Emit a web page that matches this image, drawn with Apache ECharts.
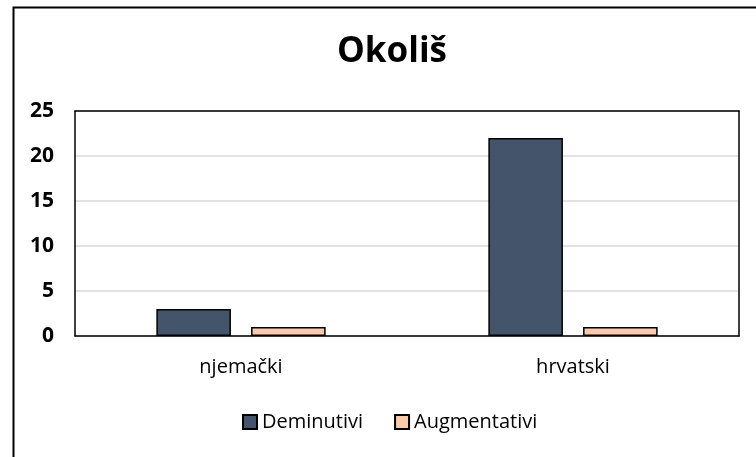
<!DOCTYPE html>
<html>
<head>
<meta charset="utf-8">
<script src="https://cdn.jsdelivr.net/npm/echarts@6/dist/echarts.min.js"></script>
<style>html,body{margin:0;padding:0;background:#fff;}#c{width:756px;height:457px;}</style>
</head>
<body>
<div id="c"></div>
<script>
const categories = ['njemački', 'hrvatski'];
const deminutivi = [3, 22];
const augmentativi = [1, 1];
const seriesNames = ['Deminutivi', 'Augmentativi'];
const yTicks = [0, 5, 10, 15, 20, 25];

const FONT = '"Open Sans", sans-serif';
const frameLine = {show: true, onZero: false, lineStyle: {color: '#000', width: 1.5}};
const chart = echarts.init(document.getElementById('c'), null, {renderer: 'canvas'});
chart.setOption({
  animation: false,
  backgroundColor: '#fff',
  title: {
    text: 'Okoliš', left: 392, top: 30, textAlign: 'center', padding: 0,
    textStyle: {fontFamily: FONT, fontSize: 35, fontWeight: 'bold', color: '#000', lineHeight: 44}
  },
  graphic: [{
    type: 'rect', left: 11, top: 5, z: 100, silent: true,
    shape: {x: 0, y: 0, width: 800, height: 500},
    style: {fill: 'none', stroke: '#000', lineWidth: 2}
  }],
  grid: {left: 75, right: 17, top: 111, bottom: 121, show: false},
  legend: {
    data: seriesNames, left: 242, top: 412, padding: 0,
    itemWidth: 14, itemHeight: 14, itemGap: 31,
    icon: 'rect',
    textStyle: {fontFamily: FONT, fontSize: 20, color: '#000'}
  },
  xAxis: [{
    type: 'category', data: categories,
    axisLine: frameLine,
    axisTick: {show: false},
    axisLabel: {fontFamily: FONT, fontSize: 20, color: '#000', margin: 21}
  }, {
    type: 'category', data: categories, position: 'top', z: 10,
    axisLine: frameLine, axisTick: {show: false}, axisLabel: {show: false}
  }],
  yAxis: [{
    type: 'value', min: yTicks[0], max: yTicks[yTicks.length - 1], interval: 5,
    axisLine: frameLine,
    axisTick: {show: false},
    axisLabel: {fontFamily: FONT, fontSize: 21, fontWeight: 'bold', color: '#000', margin: 21},
    splitLine: {show: true, lineStyle: {color: '#d9d9d9', width: 1.5}}
  }, {
    type: 'value', min: yTicks[0], max: yTicks[yTicks.length - 1], interval: 5, position: 'right', z: 10,
    axisLine: frameLine, axisTick: {show: false}, axisLabel: {show: false}, splitLine: {show: false}
  }],
  series: [
    {name: seriesNames[0], type: 'bar', data: deminutivi, barGap: '27%', barCategoryGap: '49%',
     itemStyle: {color: '#44546A', borderColor: '#000', borderWidth: 1.5}},
    {name: seriesNames[1], type: 'bar', data: augmentativi,
     itemStyle: {color: '#F8CBAD', borderColor: '#000', borderWidth: 1.5}}
  ]
});
</script>
</body>
</html>
